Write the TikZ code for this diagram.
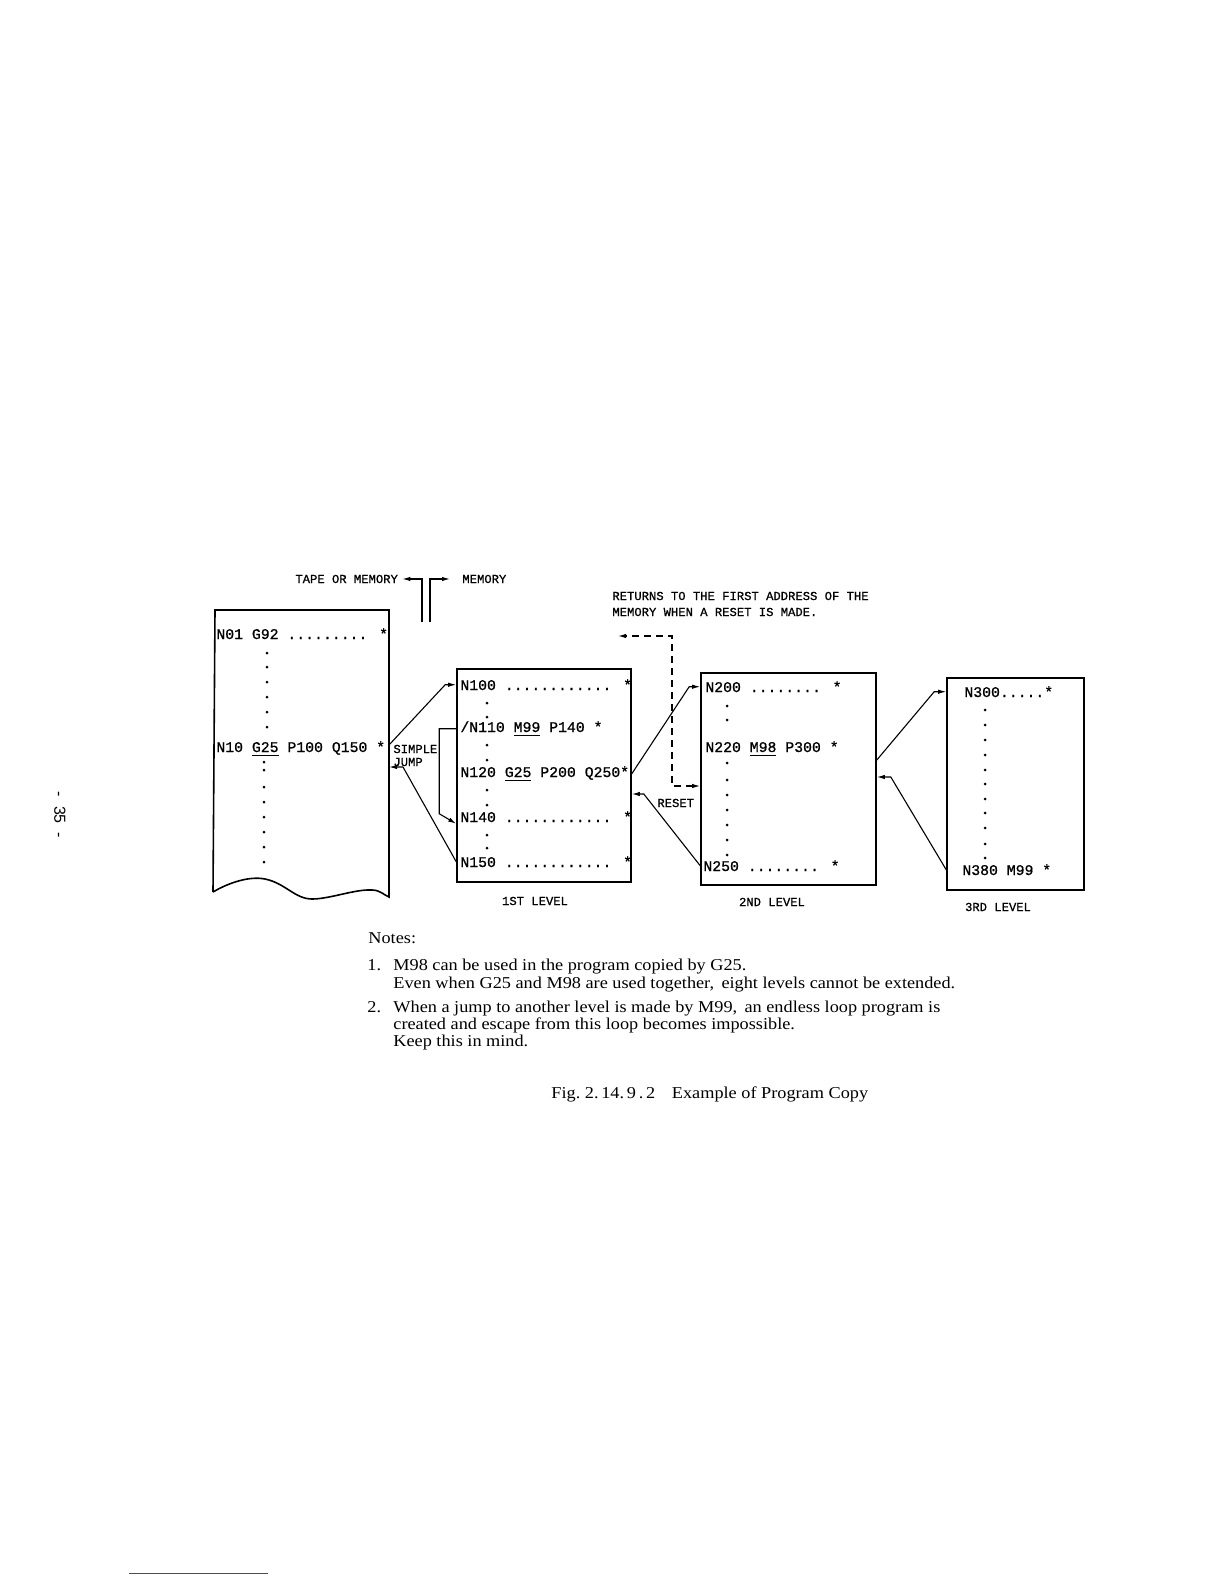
\documentclass[tikz,border=0pt]{standalone}
\usepackage{fontspec}
\setmainfont{Liberation Serif}
\newfontfamily\codefont[FakeBold=0.8]{Liberation Mono}
\newfontfamily\notefont[FakeStretch=1.1]{Liberation Serif}
\newfontfamily\pagefont{Liberation Sans}
\usetikzlibrary{arrows.meta,positioning}

\tikzset{
  code/.style={anchor=base west,inner sep=0pt,font=\codefont\fontsize{7.4}{8}\selectfont},
  tag/.style={anchor=base west,inner sep=0pt,font=\codefont\fontsize{6.1}{7}\selectfont},
  note/.style={anchor=base west,inner sep=0pt,font=\notefont\fontsize{8.3}{9}\selectfont},
  progbox/.style={draw,inner sep=0pt,line width=0.8pt},
  jump/.style={line width=0.55pt,-{Latex[length=4pt,width=2.2pt]}},
  resetline/.style={line width=0.6pt,dash pattern=on 3.5pt off 2.5pt,
    {Latex[length=4pt,width=2.2pt]}-{Latex[length=4pt,width=2.2pt]}},
}

\begin{document}
\begin{tikzpicture}[x=0.5pt,y=-0.5pt]
  \useasboundingbox (0,0) rectangle (1224,1584);

  % page number
  \node[rotate=-90,inner sep=0pt,font=\pagefont\fontsize{8}{9}\selectfont] (pagenum) at (60,815) {-\ \ 35\ \ -};

  % labels at the top
  \node[tag] (tapelbl) at (295,583) {TAPE OR MEMORY};
  \node[tag] (memlbl) at (462,583) {MEMORY};
  \draw[jump] (422,622) |- ([xshift=2pt]tapelbl.east);
  \draw[jump] (430,622) |- ([xshift=-6pt]memlbl.west);
  \node[tag] (retnote1) at (612,600) {RETURNS TO THE FIRST ADDRESS OF THE};
  \node[tag] (retnote2) at (612,616) {MEMORY WHEN A RESET IS MADE.};

  % tape
  \draw[line width=0.8pt] (213,892) -- (215,610) -- (389,610) -- (389,897)
    .. controls (384,895) and (380,890) .. (372,890)
    .. controls (355,889) and (330,899) .. (312,899)
    .. controls (295,899) and (285,883) .. (265,879)
    .. controls (250,876) and (230,882) .. (213,892);
  \coordinate (tapeNE) at (389,610);
  \node[code] (n01) at (216,639) {N01 G92 ......... *};
  \node[code] (n10) at (216,752) {N10 \underline{G25} P100 Q150 *};
  \foreach \y in {653,667,682,697,712,727}
    \fill (267,\y) circle (0.75pt);
  \foreach \y in {762,770,787,802,817,832,847,862}
    \fill (264,\y) circle (0.75pt);
  \node[tag] (simplelbl) at (393,753) {SIMPLE};
  \node[tag] (jumplbl) at (393,766) {JUMP};

  % 1st level
  \node[progbox,minimum width=87pt,minimum height=106.5pt] (lvl1) at (544,775.5) {};
  \node[code] (n100) at (460,690) {N100 ............ *};
  \node[code] (n110) at (460,732) {/N110 \underline{M99} P140 *};
  \node[code] (n120) at (460,777) {N120 \underline{G25} P200 Q250*};
  \node[code] (n140) at (460,822) {N140 ............ *};
  \node[code] (n150) at (460,867) {N150 ............ *};
  \foreach \y in {703,717,745,760,790,805,835,848}
    \fill (487,\y) circle (0.75pt);
  \node[tag,anchor=base] (lvl1lbl) at (535,905) {1ST LEVEL};

  % 2nd level
  \node[progbox,minimum width=87.5pt,minimum height=106pt] (lvl2) at (788.5,779) {};
  \node[code] (n200) at (705,692) {N200 ........ *};
  \node[code] (n220) at (705,752) {N220 \underline{M98} P300 *};
  \node[code] (n250) at (703,871) {N250 ........ *};
  \foreach \y in {706,720,763,780,795,810,825,840,855}
    \fill (727,\y) circle (0.75pt);
  \node[tag,anchor=base] (lvl2lbl) at (772,906) {2ND LEVEL};
  \node[tag] (resetlbl) at (657,807) {RESET};

  % 3rd level
  \node[progbox,minimum width=68.5pt,minimum height=106pt] (lvl3) at (1015.5,784) {};
  \node[code] (n300) at (964,697) {N300.....*};
  \node[code] (n380) at (962,875) {N380 M99 *};
  \foreach \y in {710,725,740,755,770,784,799,813,828,844,858}
    \fill (985,\y) circle (0.75pt);
  \node[tag,anchor=base] (lvl3lbl) at (998,911) {3RD LEVEL};

  % jumps
  \draw[jump] (tapeNE |- 0,745) -- ([xshift=-5.5pt]lvl1.west |- n100) -- (lvl1.west |- n100);
  \draw[jump] (lvl1.west |- n150) -- ([xshift=7pt]tapeNE |- 0,767) -- (tapeNE |- 0,767);
  \draw[jump] (lvl1.west |- n110) -| ([xshift=-8.5pt,yshift=1.5pt]lvl1.west |- n140)
    -- ([yshift=-3.5pt]lvl1.west |- n140);
  \draw[jump] (lvl1.east |- n120) -- ([xshift=-5.5pt]lvl2.west |- n200) -- (lvl2.west |- n200);
  \draw[jump] (lvl2.west |- n250) -- ([xshift=6pt]lvl1.east |- 0,794) -- (lvl1.east |- 0,794);
  \draw[jump] (lvl2.east |- 0,760) -- ([xshift=-6pt]lvl3.west |- n300) -- (lvl3.west |- n300);
  \draw[jump] (lvl3.west |- n380) -- ([xshift=7pt]lvl2.east |- 0,777) -- (lvl2.east |- 0,777);
  \coordinate (resetcorner) at (672,636);
  \coordinate (resetend) at (618,636);
  \draw[resetline] (lvl2.west |- 0,786) -| (resetcorner) -- (resetend);

  % notes
  \node[note] (notes) at (368,943) {Notes:};
  \node[note] (num1) at (367,970) {1.};
  \node[note] (note1a) at (393,970) {M98 can be used in the program copied by G25.};
  \node[note] (note1b) at (393,988) {Even when G25 and M98 are used together,\, eight levels cannot be extended.};
  \node[note] (num2) at (367,1012) {2.};
  \node[note] (note2a) at (393,1012) {When a jump to another level is made by M99,\, an endless loop program is};
  \node[note] (note2b) at (393,1029) {created and escape from this loop becomes impossible.};
  \node[note] (note2c) at (393,1046) {Keep this in mind.};
  \node[note] (caption) at (551,1098) {Fig.\ 2.\,14.\,9\,.\,2\quad Example of Program Copy};

  \draw[blue!50!gray,line width=0.5pt] (129,1573) -- (268,1573);
\end{tikzpicture}
\end{document}
